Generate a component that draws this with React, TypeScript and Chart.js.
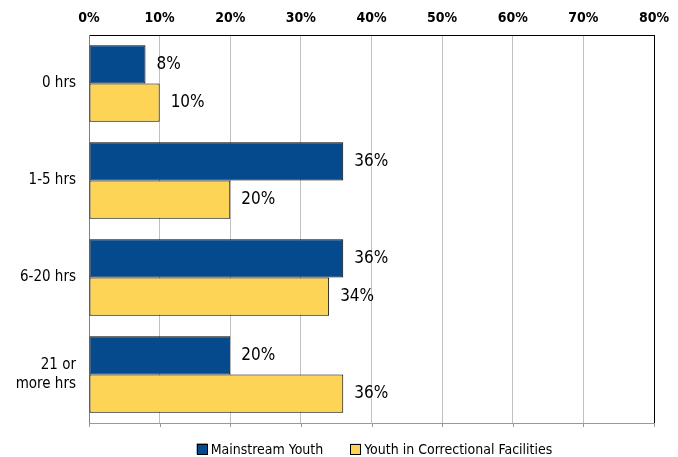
import React, { useEffect, useRef } from "react";
import { Chart, registerables } from "chart.js";

Chart.register(...registerables);

const categories: (string | string[])[] = ["0 hrs", "1-5 hrs", "6-20 hrs", ["21 or", "more hrs"]];
const mainstreamYouth = [8, 36, 36, 20];
const correctionalYouth = [10, 20, 34, 36];
const seriesNames = ["Mainstream Youth", "Youth in Correctional Facilities"];
const xTicks = [0, 10, 20, 30, 40, 50, 60, 70, 80];

const FONT = '"DejaVu Sans Condensed", "Liberation Sans Narrow", sans-serif';
const BLUE = "#054a8d";
const YELLOW = "#fed457";
const BORDER = "#000000";

const framePlugin = {
  id: "frame",
  beforeDatasetsDraw(chart: any) {
    const { ctx, chartArea } = chart;
    const { left, right, top, bottom } = chartArea;
    ctx.save();
    ctx.lineWidth = 1;
    ctx.strokeStyle = "#999999";
    ctx.beginPath();
    ctx.moveTo(left, Math.round(bottom) + 0.5);
    ctx.lineTo(right, Math.round(bottom) + 0.5);
    ctx.stroke();
    const xs = chart.scales.x;
    for (const v of xTicks) {
      const px = Math.round(xs.getPixelForValue(v)) + 0.5;
      ctx.beginPath();
      ctx.moveTo(px, bottom);
      ctx.lineTo(px, bottom + 4);
      ctx.stroke();
    }
    ctx.strokeStyle = "#000000";
    ctx.beginPath();
    ctx.moveTo(Math.round(right) + 0.5, top);
    ctx.lineTo(Math.round(right) + 0.5, bottom);
    ctx.stroke();
    ctx.restore();
  },
};

const valueLabelPlugin = {
  id: "valueLabels",
  afterDatasetsDraw(chart: any) {
    const { ctx } = chart;
    ctx.save();
    ctx.font = `17px ${FONT}`;
    ctx.fillStyle = "#000";
    ctx.textAlign = "left";
    ctx.textBaseline = "middle";
    chart.data.datasets.forEach((ds: any, i: number) => {
      const meta = chart.getDatasetMeta(i);
      meta.data.forEach((bar: any, j: number) => {
        ctx.fillText(`${ds.data[j]}%`, bar.x + 11, bar.y);
      });
    });
    ctx.restore();
  },
};

const legendPlugin = {
  id: "customLegend",
  afterDraw(chart: any) {
    const { ctx, chartArea } = chart;
    const colors = [BLUE, YELLOW];
    ctx.save();
    ctx.font = `14px ${FONT}`;
    ctx.textBaseline = "middle";
    ctx.textAlign = "left";
    const box = 11;
    const gapText = 3;
    const gapItem = 27;
    const widths = seriesNames.map((n) => ctx.measureText(n).width);
    const total = widths.reduce((a, w) => a + box + gapText + w, 0) + gapItem;
    let x = (chartArea.left + chartArea.right) / 2 + 3 - total / 2;
    const cy = 449;
    seriesNames.forEach((n, i) => {
      ctx.fillStyle = colors[i];
      ctx.fillRect(x, cy - box / 2, box, box);
      ctx.strokeStyle = BORDER;
      ctx.lineWidth = 1;
      ctx.strokeRect(Math.round(x) + 0.5, Math.round(cy - box / 2) + 0.5, box - 1, box - 1);
      ctx.fillStyle = "#000";
      ctx.fillText(n, x + box + gapText, cy + 1);
      x += box + gapText + widths[i] + gapItem;
    });
    ctx.restore();
  },
};

export default function App() {
  const ref = useRef<HTMLCanvasElement | null>(null);
  useEffect(() => {
    document.body.style.margin = "0";
    const canvas = ref.current!;
    const chart = new Chart(canvas, {
      type: "bar",
      data: {
        labels: categories as any,
        datasets: [
          {
            label: seriesNames[0],
            data: mainstreamYouth,
            backgroundColor: BLUE,
            borderColor: BORDER,
            borderWidth: 1,
            borderSkipped: false,
          },
          {
            label: seriesNames[1],
            data: correctionalYouth,
            backgroundColor: YELLOW,
            borderColor: BORDER,
            borderWidth: 1,
            borderSkipped: false,
          },
        ],
      },
      options: {
        indexAxis: "y",
        responsive: false,
        animation: false,
        devicePixelRatio: 1,
        layout: { padding: { left: 0, right: 24, top: 0, bottom: 34 } },
        datasets: { bar: { categoryPercentage: 0.79, barPercentage: 1.0 } },
        plugins: {
          legend: { display: false },
          tooltip: { enabled: false },
        },
        scales: {
          x: {
            position: "top",
            min: 0,
            max: 80,
            afterFit: (s: any) => {
              s.height = 35;
            },
            afterBuildTicks: (s: any) => {
              s.ticks = xTicks.map((v) => ({ value: v }));
            },
            ticks: {
              callback: (v: any) => `${v}%`,
              font: { family: FONT, size: 14, weight: "bold" },
              color: "#000",
              padding: 8,
              maxRotation: 0,
            },
            grid: { color: "#c0c0c0", lineWidth: 1, drawTicks: false },
            border: { display: true, color: "#000", width: 1 },
          },
          y: {
            afterFit: (s: any) => {
              s.width = 89;
            },
            ticks: {
              font: { family: FONT, size: 15, weight: "500", lineHeight: 1.3 },
              color: "#000",
              padding: 13,
            },
            grid: { display: false, drawTicks: false },
            border: { display: true, color: "#808080", width: 1 },
          },
        },
      },
      plugins: [framePlugin, valueLabelPlugin, legendPlugin],
    });
    return () => chart.destroy();
  }, []);
  return (
    <div style={{ width: 678, height: 457, background: "#fff" }}>
      <canvas ref={ref} width={678} height={457} />
    </div>
  );
}
